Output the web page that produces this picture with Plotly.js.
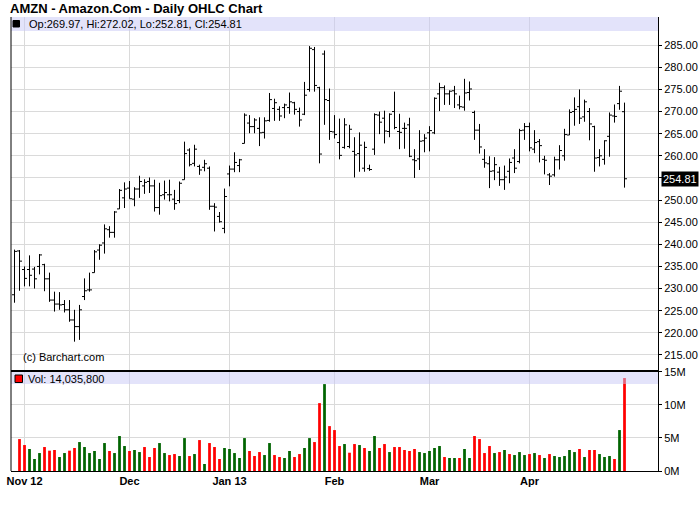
<!DOCTYPE html>
<html>
<head>
<meta charset="utf-8">
<script src="https://cdn.plot.ly/plotly-3.0.1.min.js"></script>
<style>html,body{margin:0;padding:0;background:#fff;}#chart{width:700px;height:512px;}</style>
</head>
<body>
<div id="chart"></div>
<script>
// Trading days (categories)
const dates = [
"2012-10-26","2012-10-31",
"2012-11-01","2012-11-02","2012-11-05","2012-11-06","2012-11-07","2012-11-08","2012-11-09","2012-11-12","2012-11-13","2012-11-14","2012-11-15","2012-11-16","2012-11-19","2012-11-20","2012-11-21","2012-11-23","2012-11-26","2012-11-27","2012-11-28","2012-11-29","2012-11-30",
"2012-12-03","2012-12-04","2012-12-05","2012-12-06","2012-12-07","2012-12-10","2012-12-11","2012-12-12","2012-12-13","2012-12-14","2012-12-17","2012-12-18","2012-12-19","2012-12-20","2012-12-21","2012-12-24","2012-12-26","2012-12-27","2012-12-28","2012-12-31",
"2013-01-02","2013-01-03","2013-01-04","2013-01-07","2013-01-08","2013-01-09","2013-01-10","2013-01-11","2013-01-14","2013-01-15","2013-01-16","2013-01-17","2013-01-18","2013-01-22","2013-01-23","2013-01-24","2013-01-25","2013-01-28","2013-01-29","2013-01-30","2013-01-31",
"2013-02-01","2013-02-04","2013-02-05","2013-02-06","2013-02-07","2013-02-08","2013-02-11","2013-02-12","2013-02-13","2013-02-14","2013-02-15","2013-02-19","2013-02-20","2013-02-21","2013-02-22","2013-02-25","2013-02-26","2013-02-27","2013-02-28",
"2013-03-01","2013-03-04","2013-03-05","2013-03-06","2013-03-07","2013-03-08","2013-03-11","2013-03-12","2013-03-13","2013-03-14","2013-03-15","2013-03-18","2013-03-19","2013-03-20","2013-03-21","2013-03-22","2013-03-25","2013-03-26","2013-03-27","2013-03-28",
"2013-04-01","2013-04-02","2013-04-03","2013-04-04","2013-04-05","2013-04-08","2013-04-09","2013-04-10","2013-04-11","2013-04-12","2013-04-15","2013-04-16","2013-04-17","2013-04-18","2013-04-19","2013-04-22","2013-04-23","2013-04-24","2013-04-25","2013-04-26"
];

const opens = [
228.6,238.5,
234.3,234.3,234.4,235.0,235.4,232.2,227.4,226.5,226.4,225.2,222.9,221.4,228.2,229.7,233.6,238.7,240.3,243.3,242.7,248.0,250.5,
252.7,250.2,252.5,253.2,254.2,253.2,248.3,251.2,251.2,250.2,249.9,254.6,261.3,258.3,257.6,257.4,257.2,248.6,246.3,243.6,
255.9,257.0,257.8,262.8,267.4,266.6,266.2,265.3,268.0,270.7,270.5,270.9,270.9,272.0,270.0,269.4,275.0,284.0,275.4,283.0,272.5,
265.4,263.0,261.9,262.1,261.0,260.5,257.2,257.1,261.5,269.2,268.5,265.5,270.0,265.5,266.2,267.0,259.1,259.3,263.4,
265.2,265.2,274.0,275.4,274.0,274.7,271.5,271.0,274.3,269.8,265.8,259.2,258.2,256.6,256.3,254.6,256.5,259.5,258.7,265.8,
266.6,261.5,263.2,259.2,255.7,255.7,259.1,260.0,264.7,270.0,271.1,268.8,270.0,266.6,259.6,259.2,264.4,269.0,271.8,269.97
];
const highs = [
238.8,238.7,
235.0,237.5,234.9,237.8,235.6,233.6,229.3,229.2,227.4,227.4,225.2,226.3,232.3,233.6,238.7,240.0,244.5,244.1,247.5,252.5,254.0,
254.3,252.9,255.5,254.7,255.1,254.6,253.9,254.4,254.6,252.3,254.2,263.2,261.7,262.5,258.0,259.1,257.6,249.3,247.3,252.6,
257.8,260.8,259.3,269.6,269.2,268.5,268.7,268.7,274.2,272.9,271.2,271.8,274.3,272.2,270.9,276.7,284.8,284.6,275.6,283.8,275.2,
269.2,268.4,268.5,267.0,264.2,265.3,263.2,258.0,269.6,270.0,270.2,269.6,274.5,269.5,267.5,268.6,261.5,265.8,264.9,
266.7,273.2,276.5,275.9,274.8,275.8,273.6,277.4,276.8,270.2,267.2,261.5,259.9,259.7,257.5,257.8,259.4,261.5,266.1,267.4,
267.5,265.8,263.8,260.0,256.1,259.8,262.4,266.1,270.5,273.2,275.0,272.7,270.8,266.8,261.5,263.5,269.8,271.6,275.8,272.02
];
const lows = [
226.8,229.5,
230.5,230.5,230.0,233.2,229.4,227.0,224.8,225.2,224.6,222.5,218.0,218.4,227.4,229.3,233.6,236.5,237.9,241.5,241.5,248.0,248.2,
250.3,248.6,250.5,251.4,251.6,247.4,246.7,250.1,249.7,247.8,249.3,254.6,257.6,257.6,255.7,256.5,247.8,242.9,244.9,242.5,
253.1,256.3,256.3,262.8,265.1,265.1,262.2,263.9,267.7,267.9,267.9,268.5,269.5,269.3,266.6,269.2,274.5,274.5,258.3,267.0,263.6,
263.9,259.2,261.6,261.7,255.1,256.4,256.4,256.6,260.2,264.9,262.8,264.2,266.0,261.5,261.6,259.7,255.0,256.8,260.8,
261.0,264.9,270.1,271.5,271.5,270.8,270.5,270.2,272.5,263.6,260.5,257.3,252.7,254.5,253.2,252.3,253.8,256.1,258.3,263.6,
261.0,260.6,258.5,255.8,253.4,255.3,256.9,258.9,264.7,266.8,267.2,267.7,263.5,256.4,257.6,258.0,259.8,267.5,270.4,252.81
];
const closes = [
238.4,236.2,
232.3,233.0,232.2,237.6,232.2,227.4,226.5,226.3,225.2,222.9,221.4,225.2,229.5,229.7,238.3,239.8,243.5,242.7,247.3,252.2,252.5,
250.3,252.5,254.2,254.0,253.2,248.3,251.0,251.7,251.2,249.2,253.8,260.5,258.0,261.5,256.8,258.2,248.6,248.4,245.1,250.8,
257.0,258.5,259.1,269.2,266.6,268.1,265.2,267.9,272.7,272.0,269.0,271.5,272.2,270.5,268.1,273.7,284.3,275.9,260.4,272.7,265.5,
264.8,260.1,267.0,266.0,260.2,262.4,261.9,256.9,269.3,267.6,265.6,269.4,266.4,265.3,266.2,259.9,258.9,263.3,264.0,
265.7,273.0,275.4,274.0,274.6,274.0,271.1,274.2,275.1,265.8,262.0,258.4,256.5,258.0,254.6,255.2,258.5,257.2,265.7,266.6,
261.8,263.0,262.3,259.0,255.4,259.1,261.2,264.8,269.8,270.5,268.5,272.2,267.2,259.5,260.0,263.4,269.2,268.9,274.6,254.81
];
// Volume in millions of shares (first bar has no volume bar drawn)
const volumes = [
null,
4.82,3.92,3.32,1.81,2.71,3.62,3.07,3.17,2.11,2.71,
3.07,3.47,4.37,3.62,2.71,3.02,1.81,4.22,3.02,2.71,
5.28,3.77,3.02,3.17,2.86,3.62,2.11,3.47,4.22,2.71,
2.41,2.56,2.26,4.97,2.26,2.56,4.67,1.06,4.22,3.62,
1.81,3.47,3.32,2.71,1.96,4.97,3.02,2.26,2.86,2.41,
4.22,2.41,2.11,1.96,3.02,2.11,2.56,3.47,4.97,4.37,
10.25,13.12,6.78,6.18,3.77,4.07,2.76,4.07,3.92,3.47,
3.02,5.28,3.47,4.07,2.86,3.62,3.62,3.17,3.02,3.32,
2.86,2.71,3.02,3.47,3.77,2.11,1.96,1.96,1.96,3.32,
1.96,5.28,4.82,2.71,3.77,2.71,2.86,3.17,2.56,2.41,
2.86,2.41,2.56,2.71,2.41,1.96,2.56,2.26,2.11,2.26,
3.17,2.86,3.32,2.11,3.17,3.17,2.56,2.11,2.26,1.81,
6.18,14.0358
];
// Volume bar direction as seen in the chart: G = up (green), R = down (red)
const volDir = ("-" +
"RRGGGRRRGG" + "RRGGGGGGRG" + "GGRGGRRRGG" + "RRGGRGRGRR" +
"RGGGGGRRRG" + "GRRGGRRGGR" + "RGRRRGRRGR" + "GGRRGRRRRR" +
"GGGGGRGGRG" + "GRRRRGRGRG" + "GGRGRGRGGG" + "GGRGRRGGGR" + "GR").split("");

const monthLabels = ["Nov 12","Dec","Jan 13","Feb","Mar","Apr"];
const priceTicks = [215,220,225,230,235,240,245,250,255,260,265,270,275,280,285];
const volTicks = [0,5,10,15];
const volTickText = ["0M","5M","10M","15M"];

const symbolTitle = "AMZN - Amazon.Com - Daily OHLC Chart";

// ---- build ----
const idx = dates.map((d,i)=>i);
const monthStarts = [];
let prevMonth = null;
dates.forEach((d,i)=>{ const m = d.slice(0,7); if (m !== prevMonth) { monthStarts.push(i); prevMonth = m; } });
const tickIdx = monthStarts.slice(1); // Nov..Apr first trading days

const GREEN = "#006400", RED = "#ff0000";
const volColors = volDir.map(c => c === "G" ? GREEN : RED);

const n = dates.length, last = n - 1;
const lastClose = closes[last];
const priceTickText = priceTicks.map(v => Math.abs(v - lastClose) < 2.5 ? "" : v.toFixed(2));

const FONT = "Liberation Sans, Arial, sans-serif";

// geometry (pixels)
const W = 700, H = 512;
const mL = 11, mR = 42, mT = 17, mB = 41;
const plotW = W - mL - mR, plotH = H - mT - mB;
const splitY = 371; // boundary between price and volume panels
const volTop = (H - mB - splitY) / plotH;
const px2x = p => (p - mL) / plotW;
const py2y = p => (H - mB - p) / plotH;

// x range: 5 px per trading day, bar centres on half pixels (crisp 1px lines)
const spacing = 5;
const midBar = 62, midPx = 324.5;
const r0 = midBar - (midPx - mL) / spacing;
const r1 = r0 + plotW / spacing;

const gridColor = "#dadada";

const traces = [
  {
    type: "ohlc", x: idx, open: opens, high: highs, low: lows, close: closes,
    xaxis: "x", yaxis: "y",
    increasing: {line: {color: "#000000", width: 1}},
    decreasing: {line: {color: "#000000", width: 1}},
    tickwidth: 0.5, hoverinfo: "skip", showlegend: false
  },
  {
    type: "bar", x: idx, y: volumes, xaxis: "x", yaxis: "y2",
    marker: {color: volColors, line: {width: 0}},
    width: 0.55, hoverinfo: "skip", showlegend: false
  }
];

const fmt = v => v.toFixed(2);
const headerText = "Op:" + fmt(opens[last]) + ", Hi:" + fmt(highs[last]) + ", Lo:" + fmt(lows[last]) + ", Cl:" + fmt(closes[last]);
const volText = "Vol: " + Math.round(volumes[last] * 1e6).toLocaleString("en-US");

const layout = {
  width: W, height: H,
  margin: {l: mL, r: mR, t: mT, b: mB, pad: 0},
  paper_bgcolor: "#ffffff", plot_bgcolor: "#ffffff",
  showlegend: false, hovermode: false, dragmode: false,
  font: {family: FONT, size: 11, color: "#000000"},
  title: {
    text: symbolTitle, font: {family: FONT, size: 13, color: "#000000", weight: "bold"},
    xref: "container", yref: "container", x: 10 / W, xanchor: "left", y: 1 - 8.5 / H, yanchor: "middle"
  },
  xaxis: {
    domain: [0, 1], anchor: "y2", range: [r0, r1],
    tickmode: "array", tickvals: tickIdx, ticktext: monthLabels,
    tickfont: {family: FONT, size: 11, color: "#000000", weight: "bold"},
    showgrid: true, gridcolor: gridColor, gridwidth: 1,
    showline: true, linecolor: "#000000", linewidth: 1,
    ticks: "", zeroline: false, fixedrange: true,
    rangeslider: {visible: false}
  },
  yaxis: {
    domain: [volTop, 1], anchor: "x", side: "right",
    range: [211.37, 291.37],
    tickmode: "array", tickvals: priceTicks, ticktext: priceTickText,
    tickfont: {family: FONT, size: 11, color: "#000000"},
    showgrid: true, gridcolor: gridColor, gridwidth: 1,
    showline: true, linecolor: "#000000", linewidth: 1,
    ticks: "outside", ticklen: 3, tickcolor: "#000000",
    zeroline: false, fixedrange: true
  },
  yaxis2: {
    domain: [0, volTop], anchor: "x", side: "right",
    range: [0, 15.1],
    tickmode: "array", tickvals: volTicks, ticktext: volTickText,
    tickfont: {family: FONT, size: 11, color: "#000000"},
    showgrid: true, gridcolor: gridColor, gridwidth: 1,
    showline: true, linecolor: "#000000", linewidth: 1,
    ticks: "outside", ticklen: 3, tickcolor: "#000000",
    zeroline: false, fixedrange: true
  },
  shapes: [
    {type: "rect", xref: "paper", yref: "paper", x0: 0, x1: 1, y0: py2y(31), y1: 1,
     fillcolor: "rgba(200,200,245,0.5)", line: {width: 0}, layer: "above"},
    {type: "rect", xref: "paper", yref: "paper", x0: 0, x1: 1, y0: py2y(384), y1: py2y(372),
     fillcolor: "rgba(200,200,245,0.5)", line: {width: 0}, layer: "above"},
    {type: "rect", xref: "paper", yref: "paper", x0: px2x(13), x1: px2x(19.5), y0: py2y(27), y1: py2y(20.5),
     fillcolor: "#000000", line: {color: "#000000", width: 1}, layer: "above"},
    {type: "rect", xref: "paper", yref: "paper", x0: px2x(15), x1: px2x(22.5), y0: py2y(382.5), y1: py2y(375),
     fillcolor: RED, line: {color: "#000000", width: 1}, layer: "above"},
    {type: "line", xref: "paper", yref: "paper", x0: 0, x1: 0, y0: 0, y1: 1,
     line: {color: "#000000", width: 1}, layer: "above"},
    {type: "line", xref: "paper", yref: "paper", x0: 0, x1: 1, y0: volTop, y1: volTop,
     line: {color: "#000000", width: 2}, layer: "above"}
  ],
  annotations: [
    {text: headerText, xref: "paper", yref: "paper", x: px2x(27), y: py2y(24),
     xanchor: "left", yanchor: "middle", showarrow: false,
     font: {family: FONT, size: 11, color: "#000000"}},
    {text: volText, xref: "paper", yref: "paper", x: px2x(26), y: py2y(379),
     xanchor: "left", yanchor: "middle", showarrow: false,
     font: {family: FONT, size: 11, color: "#000000"}},
    {text: "(c) Barchart.com", xref: "paper", yref: "paper", x: px2x(21), y: py2y(357),
     xanchor: "left", yanchor: "middle", showarrow: false,
     font: {family: FONT, size: 11, color: "#000000"}},
    {text: fmt(lastClose), xref: "paper", yref: "y", x: 1, y: lastClose,
     xanchor: "left", yanchor: "middle", xshift: 3, showarrow: false,
     bgcolor: "#000000", borderpad: 1,
     font: {family: FONT, size: 11, color: "#ffffff"}}
  ]
};

Plotly.newPlot("chart", traces, layout, {staticPlot: true, displayModeBar: false});
</script>
</body>
</html>
